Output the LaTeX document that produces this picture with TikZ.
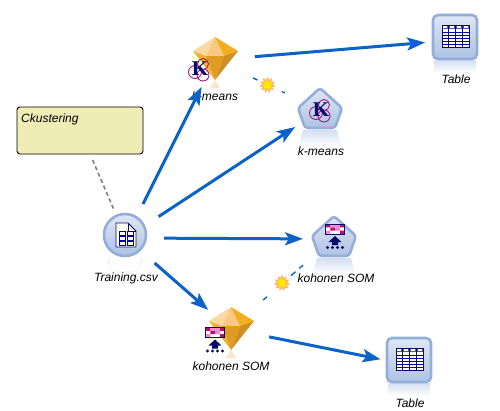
\documentclass[tikz,border=0pt]{standalone}
\usepackage{fontspec}
\setmainfont{Liberation Sans}
\newfontfamily\kfont{Liberation Serif}
\usetikzlibrary{arrows.meta,shapes.geometric}
\definecolor{flow}{HTML}{0B62C8}
\definecolor{rim}{HTML}{93AEDA}
\definecolor{navy}{HTML}{0A0A6E}
\definecolor{mag}{HTML}{A5187C}
\definecolor{noteY}{HTML}{F0ECB6}
\definecolor{gemA}{HTML}{FBD9A4}
\definecolor{gemB}{HTML}{F9C981}
\definecolor{gemC}{HTML}{F3AE20}
\definecolor{gemD}{HTML}{F2B230}
\definecolor{gemE}{HTML}{DF9C20}
\definecolor{gemF}{HTML}{CF8E22}
\definecolor{gemG}{HTML}{FBE6CB}
\tikzset{
  hub/.style={coordinate},
  lab/.style={font=\fontsize{12}{14}\selectfont\itshape,inner sep=0pt,text=black},
  flowline/.style={draw=flow,line width=3pt,-{Stealth[length=18pt,width=13pt,inset=4pt]}},
  linkline/.style={draw=flow,line width=1.4pt},
  burst/.style={star,star points=11,star point ratio=1.6,minimum size=14pt,inner sep=0pt,draw=orange!60!white,line width=1pt,fill=yellow!90!orange},
  iconfill/.style={top color=white!70!rim,bottom color=rim!75!white,draw=rim,line width=2.6pt},
  mirror/.style={top color=rim!40!white,bottom color=white,draw=none},
  pics/gem/.style={code={
    \fill[gemG] (-5,28) -- (0,20) -- (5,28) -- cycle;
    \fill[gemA] (-22,-9) -- (0,-23) -- (-9,-4) -- cycle;
    \fill[gemB] (0,-23) -- (9,-4) -- (-9,-4) -- cycle;
    \fill[gemC] (0,-23) -- (23,-9) -- (9,-4) -- cycle;
    \fill[gemD] (-22,-9) -- (-9,-4) -- (0,20) -- cycle;
    \fill[gemE] (-9,-4) -- (9,-4) -- (0,20) -- cycle;
    \fill[gemF] (9,-4) -- (23,-9) -- (0,20) -- cycle;
  }},
  pics/penta/.style={code={
    \path[mirror] (-17,20) -- (17,20) -- (21,36) -- (-21,36) -- cycle;
    \path[iconfill,rounded corners=3pt] (0,-22) -- (22,-2) -- (15,18) -- (-15,18) -- (-22,-2) -- cycle;
  }},
  pics/tabicon/.style={code={
    \path[mirror] (-21,23) -- (21,23) -- (21,36) -- (-21,36) -- cycle;
    \path[iconfill,rounded corners=5pt] (-22,-22) rectangle (22,22);
    \fill[white] (-13,-12) rectangle (14,10);
    \foreach \yy in {-5,-2,1,4,7} \draw[blue!70!black,line width=.6pt] (-13,\yy) -- (14,\yy);
    \fill[navy!70!white] (-13,-12) rectangle (14,-8);
    \foreach \xx in {-11,-9,-4,-2,3,5,10,12} \fill[white] (\xx-1,-11) rectangle (\xx+1,-9);
    \draw[navy,line width=.9pt] (-13,-12) rectangle (14,10);
    \foreach \xx in {-6.2,.5,7.2} \draw[navy,line width=.9pt] (\xx,-12) -- (\xx,10);
  }},
  pics/filecirc/.style={code={
    \path[mirror] (-17,23) arc[start angle=180,end angle=0,radius=17] -- (13,36) -- (-13,36) -- cycle;
    \path[iconfill] (0,0) circle[radius=21];
    \path[draw=navy,fill=white,line width=.9pt] (-9,-12) -- (3,-12) -- (11,-4) -- (11,12) -- (-9,12) -- cycle;
    \draw[navy,line width=.7pt] (3,-12) -- (3,-4) -- (11,-4);
    \foreach \yy in {-3.5,1.5,6.5} \foreach \xx in {-6,2} \draw[blue!60!black,line width=.6pt] (\xx,\yy) rectangle (\xx+6,\yy+3.5);
  }},
  pics/kmark/.style={code={
    \draw[mag,line width=.9pt] (-5,3) circle[radius=6.5] (3,-5) circle[radius=5.5] (3,6) circle[radius=6];
    \node[inner sep=0pt,text=navy,font=\fontsize{21}{21}\selectfont\kfont\bfseries] at (0,0) {K};
  }},
  pics/somark/.style={code={
    \fill[white] (-9.5,-5) rectangle (9.5,5);
    \fill[mag!85!red] (-9.5,-5) rectangle (-4.75,-1.7) (4.75,-5) rectangle (9.5,-1.7) (-4.75,-1.7) rectangle (0,1.7) (4.75,1.7) rectangle (9.5,5);
    \fill[pink!70!magenta] (-4.75,-5) rectangle (4.75,-1.7) (-9.5,1.7) rectangle (-4.75,5) (0,-1.7) rectangle (4.75,1.7);
    \draw[navy,line width=1pt] (-9.5,-5) rectangle (9.5,5);
    \fill[navy] (0,7) -- (6.5,13) -- (3,13) -- (3,16) -- (-3,16) -- (-3,13) -- (-6.5,13) -- cycle;
    \foreach \xx in {-7.5,-2.5,2.5,7.5} \fill[navy] (\xx,18.5) circle[radius=1.6];
  }},
}
\begin{document}
\begin{tikzpicture}[x=1pt,y=-1pt]
\useasboundingbox (0,0) rectangle (500,410);
\fill[white] (0,0) rectangle (500,410);
% logical centres of the nodes
\node[hub] (train) at (126,238) {};
\node[hub] (gemK) at (215,60) {};
\node[hub] (gemS) at (230,329) {};
\node[hub] (nugK) at (321,110) {};
\node[hub] (nugS) at (333,239) {};
\node[hub] (tabA) at (455,40) {};
\node[hub] (tabB) at (409,365) {};
% icons
\pic at (215,60) {gem};
\pic at (320,110) {penta};
\pic at (231,330) {gem};
\pic at (334,238) {penta};
\pic at (455,37) {tabicon};
\pic at (409,360) {tabicon};
\pic at (125,235) {filecirc};
\pic at (200,69) {kmark};
\pic at (321,110) {kmark};
\pic at (215,332.5) {somark};
\pic at (335,229) {somark};
% comment
\node[draw=black,line width=.9pt,fill=noteY,rounded corners=3pt,minimum width=126pt,minimum height=47pt,inner sep=0pt] (note) at (80,130.5) {};
\node[lab,anchor=west] (notetxt) at (21,119) {Ckustering};
% labels
\node[lab] (l1) at (215,96) {k-means};
\node[lab] (l2) at (321,151) {k-means};
\node[lab] (l3) at (336,278) {kohonen SOM};
\node[lab] (l4) at (231,366) {kohonen SOM};
\node[lab] (l5) at (126,278) {Training.csv};
\node[lab] (l6) at (456,79) {Table};
\node[lab] (l7) at (410,403) {Table};
% connectors
\draw[gray,line width=1.6pt,dash pattern=on 4pt off 3pt,shorten <=32pt,shorten >=32pt] (note.center) -- (train);
\draw[flowline,shorten <=38pt,shorten >=30pt] (train) -- (gemK);
\draw[flowline,shorten <=39pt,shorten >=31pt] (train) -- (nugK);
\draw[flowline,shorten <=38pt,shorten >=30pt] (train) -- (nugS);
\draw[flowline,shorten <=38pt,shorten >=29pt] (train) -- (gemS);
\draw[flowline,shorten <=40pt,shorten >=30pt] (gemK) -- (tabA);
\draw[flowline,shorten <=40pt,shorten >=29pt] (gemS) -- (tabB);
\draw[linkline,dash pattern=on 5pt off 27pt on 5pt,shorten <=42pt,shorten >=40pt] (gemK) -- (nugK);
\draw[linkline,dash pattern=on 5pt off 32pt on 6pt off 5pt on 5pt,shorten <=44pt,shorten >=37pt] (gemS) -- (nugS);
\node[burst] (sparkA) at (267.5,85) {};
\node[burst] (sparkB) at (282,283) {};
\end{tikzpicture}
\end{document}
